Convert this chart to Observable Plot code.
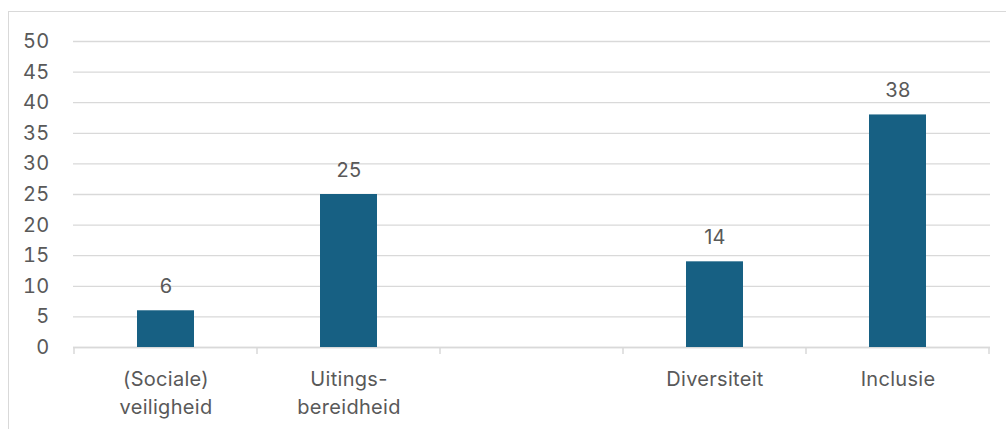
<!DOCTYPE html>
<html><head><meta charset="utf-8">
<script src="https://cdn.jsdelivr.net/npm/d3@7"></script>
<script src="https://cdn.jsdelivr.net/npm/@observablehq/plot@0.6"></script>
<style>
body{margin:0;background:#fff;}
#frame{position:absolute;left:8px;top:11px;width:1000px;height:420px;border-top:1.5px solid #d9d9d9;border-left:1.5px solid #d9d9d9;box-sizing:border-box;}
#chart{position:absolute;left:0;top:0;}
</style></head><body>
<div id="frame"></div>
<div id="chart"></div>
<script>
const categories = ["(Sociale)\nveiligheid", "Uitings-\nbereidheid", " ", "Diversiteit", "Inclusie"];
const values = [6, 25, null, 14, 38];
const yTicks = [0, 5, 10, 15, 20, 25, 30, 35, 40, 45, 50];

const data = categories
  .map((category, i) => ({category, value: values[i]}))
  .filter(d => d.value != null);

const textColor = "#595959";
const gridColor = "#d9d9d9";

function boundaryTicks(index, scales) {
  const xs = categories.map(c => scales.x(c));
  const step = xs[1] - xs[0];
  const bounds = [...xs, xs[xs.length - 1] + step];
  const y0 = scales.y(0);
  const g = d3.create("svg:g");
  g.selectAll("line").data(bounds).join("line")
    .attr("x1", d => d).attr("x2", d => d)
    .attr("y1", y0).attr("y2", y0 + 7)
    .attr("stroke", gridColor).attr("stroke-width", 1.5);
  return g.node();
}

const chart = Plot.plot({
  width: 1006,
  height: 429,
  marginLeft: 73,
  marginRight: 16,
  marginTop: 41,
  marginBottom: 82,
  style: {fontFamily: "Inter, 'Open Sans', sans-serif", fontSize: "20px", background: "transparent", letterSpacing: "0.3px"},
  x: {type: "band", domain: categories, padding: 0},
  y: {domain: [0, 50]},
  marks: [
    Plot.gridY(yTicks, {stroke: gridColor, strokeOpacity: 1, strokeWidth: 1.3}),
    Plot.axisY(yTicks, {tickSize: 0, tickPadding: 24, fontSize: 20, fill: textColor, label: null}),
    Plot.ruleY([0], {stroke: gridColor, strokeWidth: 1.5}),
    boundaryTicks,
    Plot.barY(data, {x: "category", y: "value", fill: "#176083", insetLeft: 63, insetRight: 63}),
    Plot.text(data, {x: "category", y: "value", text: d => String(d.value), lineAnchor: "bottom", dy: -18, fontSize: 20, fill: textColor}),
    Plot.axisX({tickSize: 0, tickPadding: 19, fontSize: 20, fill: textColor, label: null, lineHeight: 1.4})
  ]
});
document.getElementById("chart").appendChild(chart);
</script>
</body></html>
